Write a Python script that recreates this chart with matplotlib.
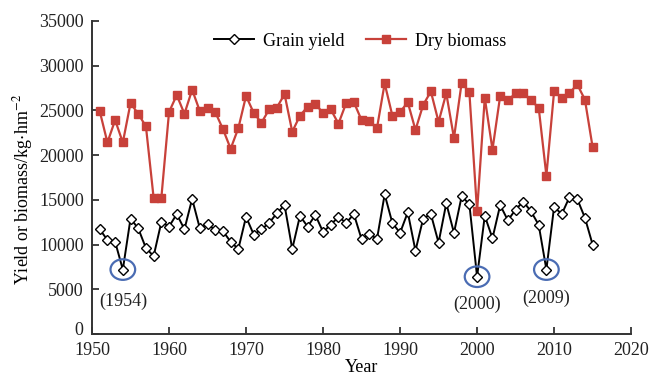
import matplotlib
matplotlib.use("Agg")
import matplotlib.pyplot as plt
import matplotlib.transforms as mtransforms
from matplotlib.patches import Ellipse

plt.rcParams['font.family'] = ['Liberation Serif', 'DejaVu Serif']
plt.rcParams['mathtext.fontset'] = 'stix'

years = list(range(1951, 2016))

grain_yield = [
    11700, 10500, 10300, 7200, 12900, 11800, 9600, 8700, 12500, 12000,
    13400, 11700, 15100, 11800, 12300, 11600, 11500, 10300, 9500, 13100,
    11100, 11700, 12400, 13500, 14400, 9500, 13200, 12000, 13300, 11400,
    12200, 13100, 12400, 13400, 10600, 11200, 10600, 15600, 12400, 11300,
    13600, 9300, 12900, 13400, 10200, 14600, 11300, 15400, 14500, 6400,
    13200, 10700, 14400, 12700, 13900, 14800, 13700, 12200, 7200, 14200,
    13400, 15300, 15100, 13000, 10000,
]

dry_biomass = [
    24900, 21400, 23900, 21400, 25800, 24600, 23200, 15200, 15200, 24800,
    26700, 24600, 27300, 24900, 25200, 24800, 22900, 20700, 23000, 26600,
    24700, 23600, 25100, 25300, 26800, 22600, 24400, 25400, 25700, 24700,
    25100, 23500, 25800, 25900, 23900, 23800, 23000, 28000, 24400, 24800,
    25900, 22800, 25600, 27100, 23700, 26900, 21900, 28100, 27000, 13700,
    26400, 20600, 26600, 26100, 26900, 26900, 26100, 25300, 17700, 27100,
    26400, 26900, 27900, 26200, 20900,
]

highlight_years = [1954, 2000, 2009]
highlight_offsets = [-23, -20, -21]

fig = plt.figure(figsize=(6.55, 3.85), dpi=100)
ax = fig.add_axes([0.1405, 0.1325, 0.823, 0.8135])

red = '#c8413a'
ax.plot(years, grain_yield, color='black', lw=1.4, marker='D', ms=5.5,
        mfc='white', mec='black', mew=1.0, label='Grain yield', zorder=3)
ax.plot(years, dry_biomass, color=red, lw=1.6, marker='s', ms=6,
        mfc=red, mec=red, label='Dry biomass', zorder=2)

ax.set_xlim(1950, 2020)
ax.set_ylim(0, 35000)
ax.set_xticks(range(1950, 2021, 10))
ax.set_yticks(range(0, 35001, 5000))

for s in ['top', 'right']:
    ax.spines[s].set_visible(False)
for s in ['left', 'bottom']:
    ax.spines[s].set_linewidth(1.4)
    ax.spines[s].set_color('#333333')

ax.tick_params(axis='both', direction='in', length=5, width=1.2,
               labelsize=13, colors='#222222')
ax.tick_params(axis='y', pad=6)
ax.tick_params(axis='x', pad=6)

# Lift the "0" label slightly so it sits clear of the first year label
fig.canvas.draw()
zero_lbl = ax.get_yticklabels()[0]
zero_lbl.set_transform(zero_lbl.get_transform() +
                       mtransforms.ScaledTranslation(0, 4 / 72, fig.dpi_scale_trans))

ax.set_xlabel('Year', fontsize=13, labelpad=0)
ax.set_ylabel(r'Yield or biomass/kg$\cdot$hm$^{-2}$', fontsize=13, labelpad=6)
ax.yaxis.set_label_coords(-0.105, 0.46)

# Circle and label the low-yield years
for yr, dy in zip(highlight_years, highlight_offsets):
    v = grain_yield[years.index(yr)]
    ax.add_patch(Ellipse((yr, v), width=3.2, height=2300, fill=False,
                         ec='#4a6cb3', lw=1.6, zorder=4))
    ax.annotate(f'({yr})', xy=(yr, v), xytext=(0, dy),
                textcoords='offset points', ha='center', va='center',
                fontsize=13, color='#222222')

ax.legend(loc='upper center', bbox_to_anchor=(0.55, 0.957),
          bbox_transform=fig.transFigure, ncol=2, frameon=False,
          fontsize=13, handlelength=2.2, columnspacing=1.2,
          handletextpad=0.5)

fig.savefig('out.png', dpi=100)
